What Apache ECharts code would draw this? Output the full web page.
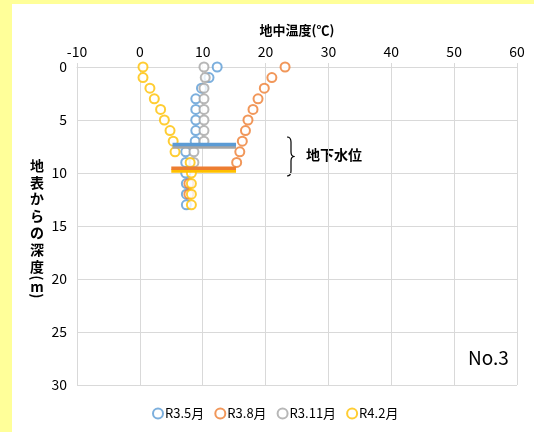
<!DOCTYPE html>
<html><head><meta charset="utf-8">
<script src="https://cdn.jsdelivr.net/npm/echarts@6/dist/echarts.min.js"></script>
<style>
html,body{margin:0;padding:0;background:#FFFF99;width:534px;height:432px;overflow:hidden}
#c{position:absolute;left:12px;top:4px;width:522px;height:428px;background:#fff}
</style></head><body><div id="c"></div>
<script>
var depths = [0,1,2,3,4,5,6,7,8,9,10,11,12,13];
var seriesNames = ['R3.5月','R3.8月','R3.11月','R4.2月'];
var r35 = [12.3,11.0,9.8,8.9,8.9,8.9,8.9,8.8,7.3,7.3,7.3,7.4,7.4,7.4];
var r38 = [23.1,21.0,19.8,18.8,18.0,17.2,16.8,16.3,15.9,15.4,null,7.8,7.8,null];
var r311 = [10.2,10.4,10.2,10.2,10.2,10.2,10.2,10.2,8.6,8.6,null,null,null,null];
var r42 = [0.5,0.5,1.6,2.3,3.3,3.9,4.8,5.3,5.6,8.0,8.2,8.2,8.2,8.2];
// groundwater levels [depth, xStart, xEnd]
var gwl = {'R3.5月':[7.3,5.2,15.3],'R3.8月':[9.55,5.0,15.3],'R3.11月':[7.55,5.2,15.3],'R4.2月':[9.8,5.0,15.3]};
var xTicks = {min:-10,max:60,interval:10};
var yTicks = {min:0,max:30,interval:5};
var colors = ['#5B9BD5','#ED7D31','#A5A5A5','#FFC000'];
var vals = [r35,r38,r311,r42];
var FONT = '"Noto Sans CJK JP", sans-serif';

function pts(v){var o=[];for(var i=0;i<depths.length;i++){if(v[i]!=null)o.push([v[i],depths[i]]);}return o;}
var series = [];
for (var k=0;k<4;k++){
  series.push({name:seriesNames[k],type:'scatter',data:pts(vals[k]),symbol:'emptyCircle',symbolSize:9,
    itemStyle:{color:colors[k],borderColor:colors[k],borderWidth:1.8},emphasis:{disabled:true}});
}
var lineOrder=[2,0,3,1];
lineOrder.forEach(function(k){
  var g=gwl[seriesNames[k]];
  series.push({type:'line',data:[[g[1],g[0]],[g[2],g[0]]],symbol:'none',lineStyle:{color:colors[k],width:3.5},silent:true,z:3});
});
var bs={fill:'none',stroke:'#000',lineWidth:1.2};
var ts={fontSize:14,fontWeight:'bold',fill:'#000',fontFamily:FONT,align:'center',verticalAlign:'middle'};
function t(s,extra){var o={};for(var key in ts)o[key]=ts[key];o.text=s;return o;}
var chart = echarts.init(document.getElementById('c'));
chart.setOption({
  animation:false,
  textStyle:{fontFamily:FONT},
  grid:{left:65,top:63,right:17,bottom:47},
  xAxis:{type:'value',position:'top',min:xTicks.min,max:xTicks.max,interval:xTicks.interval,
    name:'地中温度(℃)',nameLocation:'middle',nameGap:30,
    nameTextStyle:{fontSize:13,fontWeight:'bold',color:'#000',fontFamily:FONT},
    axisLine:{show:true,lineStyle:{color:'#D9D9D9'}},
    axisTick:{show:true,length:4,lineStyle:{color:'#D9D9D9'}},
    axisLabel:{fontSize:14,color:'#000',margin:8,fontFamily:FONT},
    splitLine:{show:true,lineStyle:{color:'#D9D9D9'}}},
  yAxis:{type:'value',inverse:true,min:yTicks.min,max:yTicks.max,interval:yTicks.interval,
    axisLine:{show:true,lineStyle:{color:'#D9D9D9'}},
    axisTick:{show:true,length:4,lineStyle:{color:'#D9D9D9'}},
    axisLabel:{fontSize:14,color:'#000',margin:10,fontFamily:FONT},
    splitLine:{show:true,lineStyle:{color:'#D9D9D9'}}},
  legend:{data:seriesNames.map(function(n){return {name:n,icon:'emptyCircle'};}),left:135,top:398,itemWidth:10,itemHeight:10,itemGap:10,
    textStyle:{fontSize:13,color:'#000',fontFamily:FONT,padding:[0,0,0,-3]}},
  graphic:[
    {type:'bezierCurve',shape:{x1:275,y1:133,cpx1:279,cpy1:133,x2:279,y2:138},style:bs},
    {type:'line',shape:{x1:279,y1:138,x2:279,y2:148},style:bs},
    {type:'bezierCurve',shape:{x1:279,y1:148,cpx1:279,cpy1:152.5,x2:282.5,y2:152.5},style:bs},
    {type:'bezierCurve',shape:{x1:282.5,y1:152.5,cpx1:279,cpy1:152.5,x2:279,y2:157},style:bs},
    {type:'line',shape:{x1:279,y1:157,x2:279,y2:167},style:bs},
    {type:'bezierCurve',shape:{x1:279,y1:167,cpx1:279,cpy1:172,x2:275,y2:172},style:bs},
    {type:'text',left:294,top:144,style:{text:'地下水位',fontSize:14,fontWeight:'bold',fill:'#000',fontFamily:FONT}},
    {type:'text',left:456,top:344,style:{text:'No.3',fontSize:19,fill:'#000',fontFamily:FONT}},
    {type:'text',x:25,y:153,style:{text:'地\n表\nか\nら\nの\n深\n度',fontSize:14,lineHeight:16.8,fontWeight:'bold',fill:'#000',fontFamily:FONT,align:'center',verticalAlign:'top'}},
    {type:'text',x:25,y:274,rotation:-Math.PI/2,style:t('(')},
    {type:'text',x:25,y:283,style:t('m')},
    {type:'text',x:25,y:292,rotation:-Math.PI/2,style:t(')')}
  ],
  series:series
});
</script></body></html>
